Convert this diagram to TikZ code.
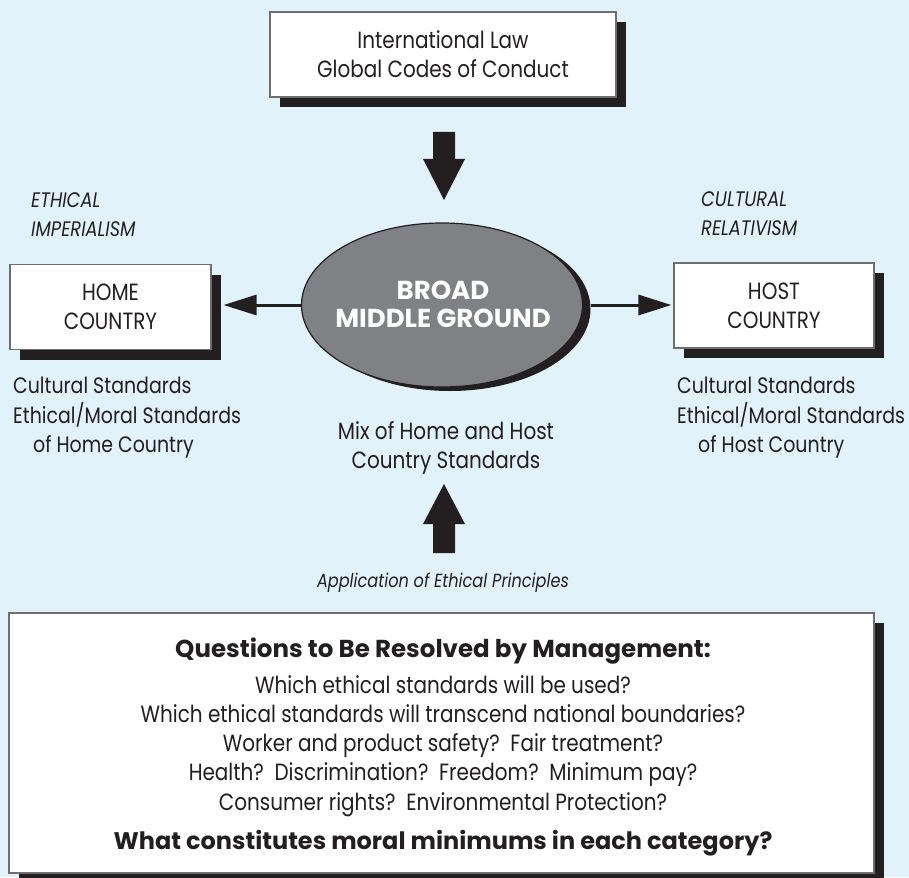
\documentclass[tikz,border=0pt]{standalone}
\usepackage{fontspec}
\setmainfont{Poppins}[FakeStretch=0.85, BoldFeatures={FakeStretch=1.0}]
\usetikzlibrary{arrows.meta,shadows,shapes.geometric}
\definecolor{bgblue}{RGB}{225,242,251}
\definecolor{ink}{RGB}{35,31,32}
\definecolor{boxline}{RGB}{110,110,113}
\definecolor{ellgray}{RGB}{128,129,132}
\newcommand{\mainsize}{\fontsize{23.5}{29}\selectfont}
\newcommand{\sidesize}{\fontsize{22.3}{29.5}\selectfont}
\begin{document}
\begin{tikzpicture}[x=1pt,y=-1pt,
  shadowbox/.style={draw=boxline, line width=1.2pt, fill=white, inner sep=0pt,
    align=center, font=\mainsize, text=ink,
    drop shadow={shadow xshift=10pt, shadow yshift=-10pt, fill=ink, opacity=1}},
  lbl/.style={inner sep=0pt, font=\mainsize, text=ink},
  conn/.style={line width=3pt, draw=ink, -{Triangle[length=33pt,width=20pt]}}]
\clip (0,0) rectangle (909,877);
\fill[bgblue] (0,0) rectangle (909,877);

% boxes
\node[shadowbox, minimum width=346pt, minimum height=85pt] (law) at (443,54.5)
  {\raisebox{-3pt}{\parbox{300pt}{\centering International Law\\Global Codes of Conduct}}};
\node[shadowbox, minimum width=201pt, minimum height=85pt] (home) at (110.5,307)
  {HOME\\COUNTRY};
\node[shadowbox, minimum width=200pt, minimum height=85pt] (host) at (774,305.5)
  {HOST\\COUNTRY};
\node[ellipse, draw=ink, line width=1.2pt, fill=ellgray, minimum width=281pt,
  minimum height=164pt, inner sep=0pt,
  drop shadow={shadow xshift=8pt, shadow yshift=-4pt, fill=ink, opacity=1}]
  (mid) at (442,305) {};
\node[inner sep=0pt, align=center, text=white,
  font=\fontsize{26}{28}\selectfont\bfseries] (midtext) at (443,304)
  {BROAD\\MIDDLE GROUND};
\node[shadowbox, minimum width=865pt, minimum height=260pt] (qbox) at (441.5,743) {};

% connectors
\draw[conn, shorten >=12pt] (mid.west) -- (mid.west -| home.east);
\draw[conn, shorten >=2pt] (mid.east) ++(8,0) -- (mid.east -| host.west);

% block arrows
\coordinate (dtip) at (444,200);
\fill[ink] (dtip) -- ++(21,-41) -- ++(-10,0) -- ++(0,-27) -- ++(-22,0) -- ++(0,27)
  -- ++(-10,0) -- cycle;
\coordinate (utip) at (444,484);
\fill[ink] (utip) -- ++(21,40) -- ++(-10,0) -- ++(0,29) -- ++(-22,0) -- ++(0,-29)
  -- ++(-10,0) -- cycle;

% side labels
\node[lbl, anchor=west, align=left, font=\fontsize{21}{29}\selectfont\itshape]
  (ethical) at (31,214.5) {ETHICAL\\IMPERIALISM};
\node[lbl, anchor=west, align=left, font=\fontsize{21}{29}\selectfont\itshape]
  (cultural) at (701,214) {CULTURAL\\RELATIVISM};
\node[lbl, anchor=west, align=left, font=\sidesize] (homestd) at (13,418)
  {Cultural Standards\\Ethical/Moral Standards\\\hspace*{20pt}of Home Country};
\node[lbl, anchor=west, align=left, font=\sidesize] (hoststd) at (677,418)
  {Cultural Standards\\Ethical/Moral Standards\\\hspace*{21pt}of Host Country};
\node[lbl, align=center] (mix) at (446,448) {Mix of Home and Host\\Country Standards};
\node[lbl, font=\fontsize{19}{29}\selectfont\itshape] (appl) at (443,583)
  {Application of Ethical Principles};

% questions
\node[lbl, font=\fontsize{24.5}{29}\selectfont\bfseries] (qtitle) at (443,651)
  {Questions to Be Resolved by Management:};
\node[lbl, align=center, font=\fontsize{23.5}{29.2}\selectfont] (qlines) at (443,746)
  {Which ethical standards will be used?\\
   Which ethical standards will transcend national boundaries?\\
   Worker and product safety?\ \ Fair treatment?\\
   Health?\ \ Discrimination?\ \ Freedom?\ \ Minimum pay?\\
   Consumer rights?\ \ Environmental Protection?};
\node[lbl, font=\fontsize{24}{29}\selectfont\bfseries] (qlast) at (443,843)
  {What constitutes moral minimums in each category?};
\end{tikzpicture}
\end{document}
